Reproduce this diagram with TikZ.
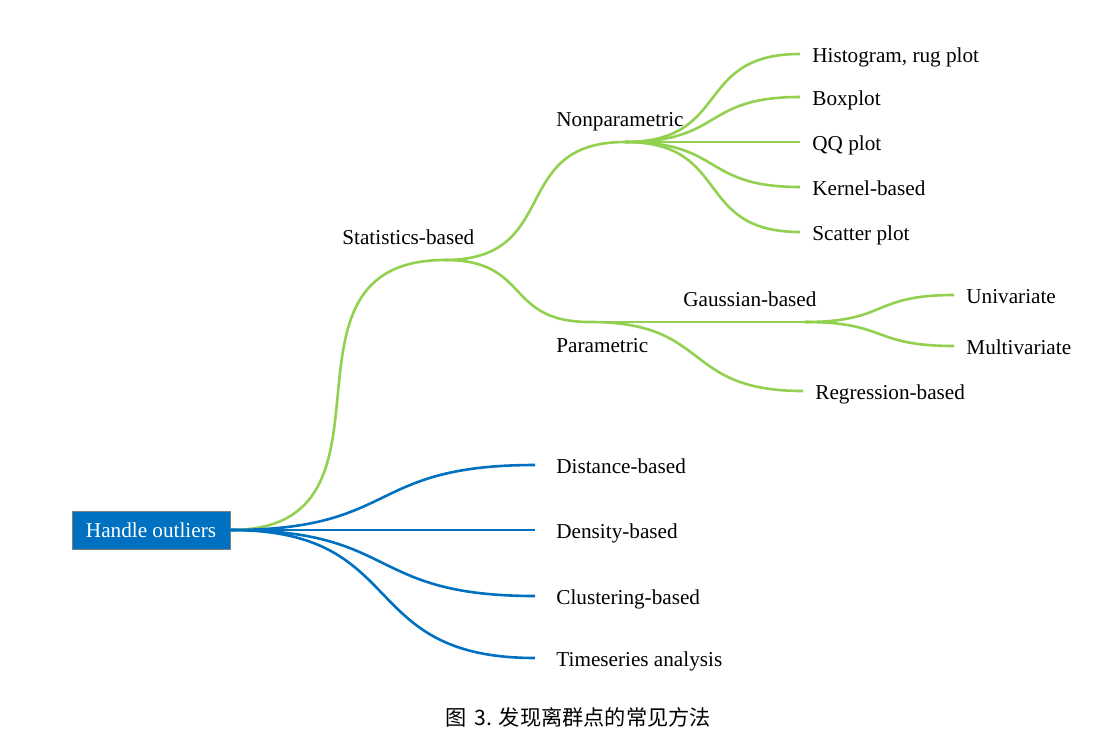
\documentclass[tikz,border=0pt]{standalone}
\usepackage{fontspec}
\setmainfont{Liberation Serif}
\newfontfamily\cjk{Noto Sans CJK SC}

\definecolor{branchgreen}{RGB}{146,208,80}
\definecolor{rootblue}{RGB}{0,112,192}

\begin{document}
\begin{tikzpicture}[x=0.5pt,y=-0.5pt,
    every node/.style={font=\fontsize{10.6pt}{13pt}\selectfont},
    txt/.style={inner sep=0pt},
    gleaf/.style={anchor=west,inner xsep=6pt,inner ysep=0pt,text height=10pt,text depth=1.5pt},
    bleaf/.style={gleaf,inner xsep=10.5pt},
    gline/.style={draw=branchgreen,line width=1.3pt},
    bline/.style={draw=rootblue,line width=1.3pt},
    branch/.style={out=0,in=180,looseness=1.4}]
\useasboundingbox (0,0) rectangle (1116,740);

%%   root
    \node[fill=rootblue,draw=gray,line width=0.5pt,text=white,
          minimum width=79pt,minimum height=19pt,inner sep=0pt] (root) at (151,530) {Handle outliers};

%%   junctions
    \coordinate (stat)   at (445,260);
    \coordinate (nonpar) at (625,142);
    \coordinate (par)    at (590,322);
    \coordinate (gauss)  at (805,322);

%%   inner labels
    \node[txt,anchor=base west] (statl)   at (342,244) {Statistics-based};
    \node[txt,anchor=base west] (nonparl) at (556,126) {Nonparametric};
    \node[txt,anchor=base west] (parl)    at (556,352) {Parametric};
    \node[txt,anchor=base west] (gaussl)  at (683,306) {Gaussian-based};

%%   leaves
    \node[gleaf] (hist)  at (800,54)  {Histogram, rug plot};
    \node[gleaf] (box)   at (800,97)  {Boxplot};
    \node[gleaf] (qq)    at (800,142) {QQ plot};
    \node[gleaf] (kern)  at (800,187) {Kernel-based};
    \node[gleaf] (scat)  at (800,232) {Scatter plot};
    \node[gleaf] (uni)   at (954,295) {Univariate};
    \node[gleaf] (multi) at (954,346) {Multivariate};
    \node[gleaf] (regr)  at (803,391) {Regression-based};

    \node[bleaf] (dist)  at (535,465) {Distance-based};
    \node[bleaf] (dens)  at (535,530) {Density-based};
    \node[bleaf] (clus)  at (535,596) {Clustering-based};
    \node[bleaf] (time)  at (535,658) {Timeseries analysis};

%%   caption
    \node (cap) at (578,717) {\cjk 图\hspace{2pt} 3. 发现离群点的常见方法};

%%   green branches
    \draw[gline] (root.east) to[branch] (stat);
    \draw[gline] (stat) to[branch] (nonpar);
    \draw[gline] (stat) to[branch] (par);
    \draw[gline] (nonpar) to[branch] (hist.west);
    \draw[gline] (nonpar) to[branch] (box.west);
    \draw[gline] (nonpar) -- (qq.west);
    \draw[gline] (nonpar) to[branch] (kern.west);
    \draw[gline] (nonpar) to[branch] (scat.west);
    \draw[gline] (par) -- (gauss);
    \draw[gline] (par) to[branch] (regr.west);
    \draw[gline] (gauss) to[branch] (uni.west);
    \draw[gline] (gauss) to[branch] (multi.west);

%%   blue branches
    \draw[bline] (root.east) to[branch] (dist.west);
    \draw[bline] (root.east) -- (dens.west);
    \draw[bline] (root.east) to[branch] (clus.west);
    \draw[bline] (root.east) to[branch] (time.west);
\end{tikzpicture}
\end{document}
